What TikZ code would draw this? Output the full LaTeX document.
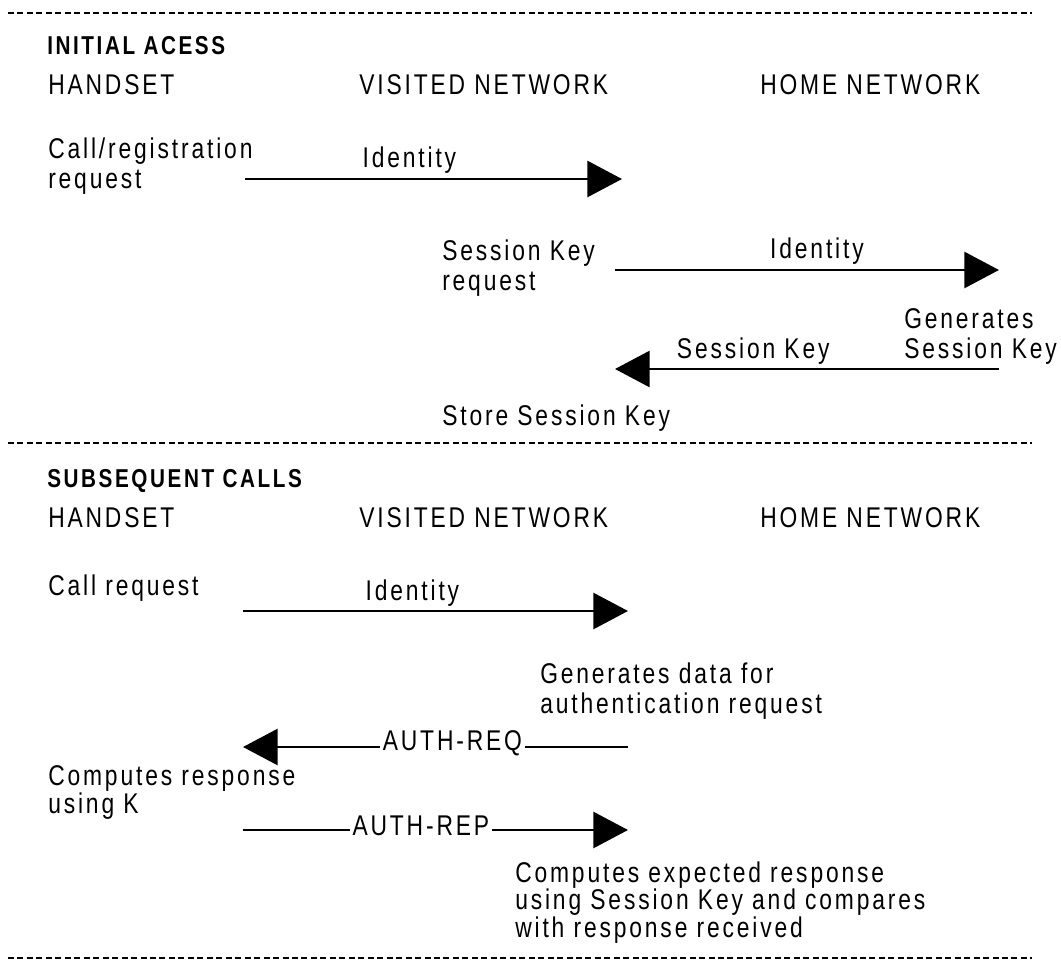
\documentclass[tikz,border=0pt]{standalone}
\usepackage{fontspec}
\setmainfont{Liberation Sans}[FakeStretch=0.8,LetterSpace=10]
\usetikzlibrary{arrows.meta}

\begin{document}
\begin{tikzpicture}[x=0.75pt, y=-0.75pt,
	txt/.style={anchor=base west, inner sep=0pt, align=left,
		font=\fontsize{21.4pt}{22.5pt}\selectfont},
	ttl/.style={anchor=base west, inner sep=0pt,
		font=\fontsize{19.4pt}{22pt}\selectfont\bfseries},
	lbl/.style={inner sep=0pt, font=\fontsize{21.4pt}{22.5pt}\selectfont},
	inlbl/.style={lbl, fill=white, inner xsep=2pt, anchor=base},
	msg/.style={line width=2.1pt, -{Triangle[length=26pt,width=27pt]}},
	sep/.style={line width=1.1pt, dash pattern=on 4.5pt off 2.6pt}]
	\useasboundingbox (0,0) rectangle (1061,967);

	\draw[sep] (8,13) -- (1032,13);
	\node[ttl] (init) at (47,55) {INITIAL ACESS};
	\node[txt] (hs1) at (48,94) {HANDSET};
	\node[txt] (vn1) at (359,94) {VISITED NETWORK};
	\node[txt] (hn1) at (760,94) {HOME NETWORK};

	\node[txt] (callreg) at (48,188) {Call/registration\\request};
	\node[txt] (skreq) at (442,290) {Session Key\\request};
	\node[txt] (gensk) at (904,358) {Generates\\Session Key};
	\node[txt] (storesk) at (442,425) {Store Session Key};

	\coordinate (a1s) at (245,179);
	\coordinate (a1e) at (622,179);
	\coordinate (a2s) at (615,270);
	\coordinate (a2e) at (999,270);
	\coordinate (a3s) at (999,369);
	\coordinate (a3e) at (615,369);

	\draw[msg] (a1s) -- node[lbl, pos=0.436, anchor=base, yshift=9pt] (id1) {Identity} (a1e);
	\draw[msg] (a2s) -- node[lbl, pos=0.526, anchor=base, yshift=9pt] (id2) {Identity} (a2e);
	\draw[msg] (a3s) -- node[lbl, pos=0.64, anchor=base, yshift=8pt] (sk) {Session Key} (a3e);

	\draw[sep] (8,443) -- (1032,443);
	\node[ttl] (subs) at (47,487) {SUBSEQUENT CALLS};
	\node[txt] (hs2) at (48,527) {HANDSET};
	\node[txt] (vn2) at (359,527) {VISITED NETWORK};
	\node[txt] (hn2) at (760,527) {HOME NETWORK};

	\node[txt] (callreq) at (48,595) {Call request};
	\node[txt] (gendata) at (540,713) {Generates data for\\authentication request};
	\node[txt, font=\fontsize{21.4pt}{21pt}\selectfont] (compresp) at (48,813) {Computes response\\using K};
	\node[txt, font=\fontsize{21.4pt}{20.6pt}\selectfont] (compexp) at (515,937) {Computes expected response\\using Session Key and compares\\with response received};

	\coordinate (a4s) at (243,611);
	\coordinate (a4e) at (628,611);
	\coordinate (a5s) at (628,747);
	\coordinate (a5e) at (243,747);
	\coordinate (a6s) at (243,830);
	\coordinate (a6e) at (628,830);

	\draw[msg] (a4s) -- node[lbl, pos=0.44, anchor=base, yshift=8pt] (id3) {Identity} (a4e);
	\draw[msg] (a5s) -- node[inlbl, pos=0.456, yshift=-2.25pt] (authreq) {AUTH-REQ} (a5e);
	\draw[msg] (a6s) -- node[inlbl, pos=0.462, yshift=-3.75pt] (authrep) {AUTH-REP} (a6e);

	\draw[sep] (8,958) -- (1032,958);
\end{tikzpicture}
\end{document}
